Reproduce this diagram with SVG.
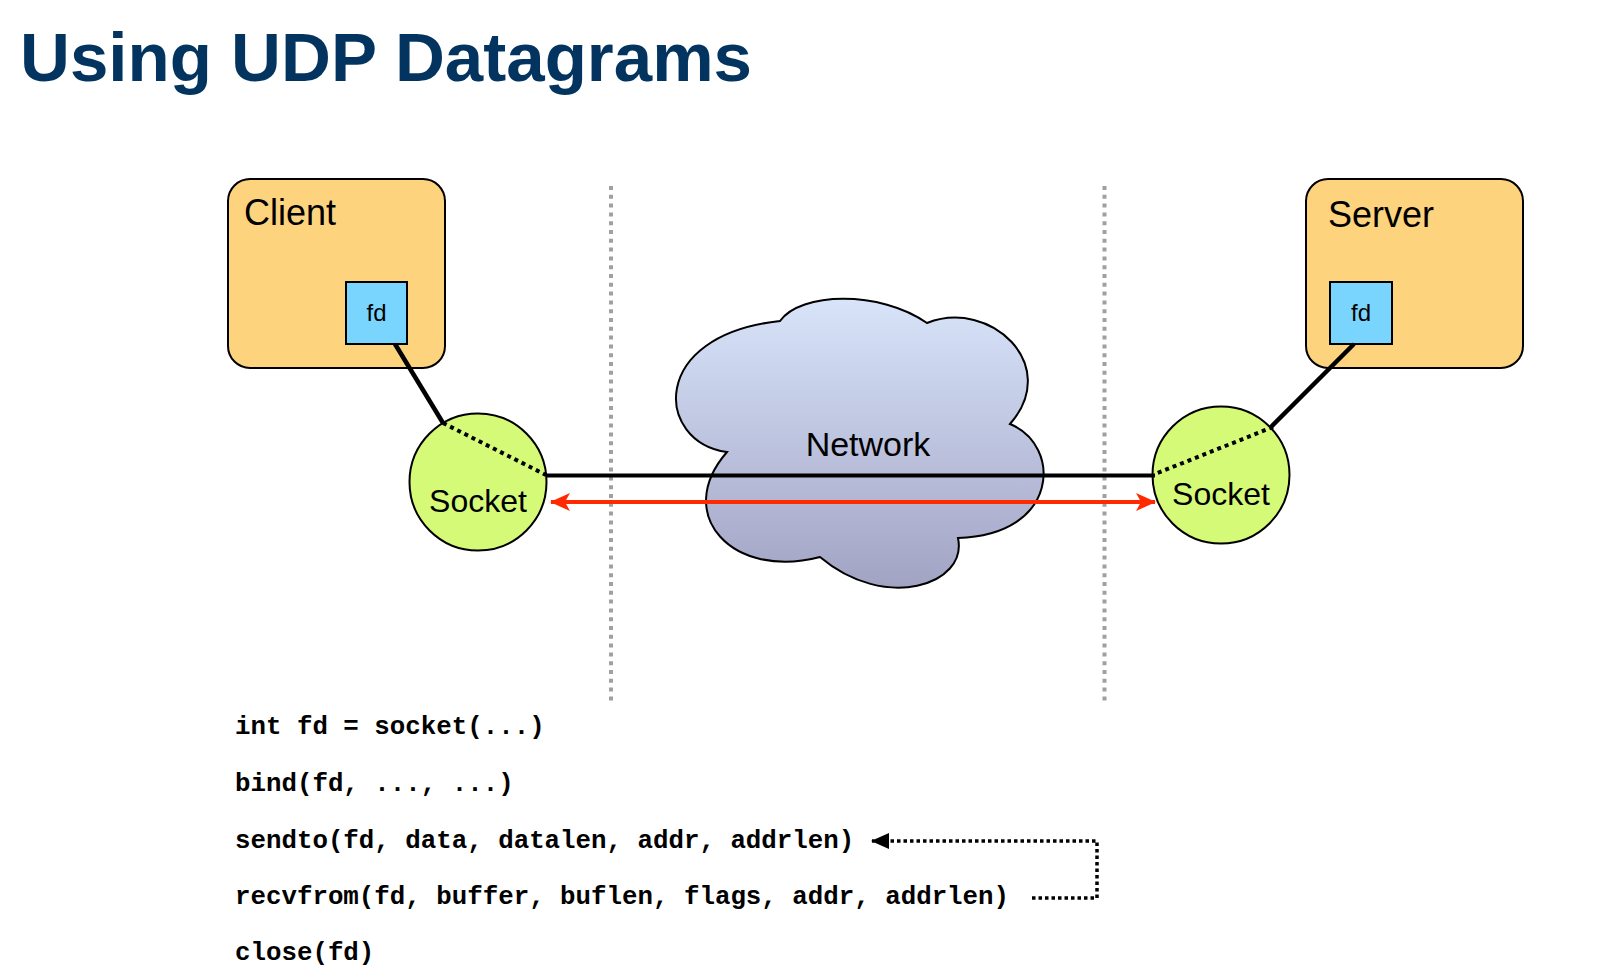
<svg xmlns="http://www.w3.org/2000/svg" width="1605" height="980" viewBox="0 0 1605 980">
<style>
.title{font-family:"Liberation Sans",Arial,sans-serif;font-weight:bold;font-size:69px;fill:#02345f}
.lbl{font-family:"Liberation Sans",Arial,sans-serif;font-size:36px;fill:#000}
.fdt{font-family:"Liberation Sans",Arial,sans-serif;font-size:24px;fill:#000;text-anchor:middle}
.sock{font-family:"Liberation Sans",Arial,sans-serif;font-size:32px;fill:#000;text-anchor:middle}
.code{font-family:"Liberation Mono","Courier New",monospace;font-weight:bold;font-size:25.8px;fill:#000}
.box{fill:#fed37e;stroke:#000;stroke-width:2}
.fd{fill:#79d5fe;stroke:#000;stroke-width:2}
.sc{fill:#d5fa78;stroke:#000;stroke-width:2}
.thick{stroke:#000;stroke-width:4.5;fill:none}
.dot{stroke:#000;stroke-width:4;stroke-dasharray:4 4;fill:none}
.sep{stroke:#a0a0a0;stroke-width:4;stroke-dasharray:4 4.8;fill:none}
</style>
<defs>
<linearGradient id="cloudg" x1="0" y1="0" x2="0" y2="1">
<stop offset="0" stop-color="#d8e4fa"/>
<stop offset="1" stop-color="#a2a3c3"/>
</linearGradient>
<marker id="redhead" viewBox="0 0 20 18" refX="19" refY="9" markerWidth="20" markerHeight="18" markerUnits="userSpaceOnUse" orient="auto-start-reverse">
<path d="M0,0 L20,9 L0,18 L5,9 Z" fill="#ff2a00"/>
</marker>
<marker id="blkhead" viewBox="0 0 18 16" refX="17" refY="8" markerWidth="18" markerHeight="16" markerUnits="userSpaceOnUse" orient="auto">
<path d="M0,0 L18,8 L0,16 Z" fill="#000"/>
</marker>
</defs>
<rect width="1605" height="980" fill="#fff"/>
<text class="title" x="20" y="81" textLength="732" lengthAdjust="spacingAndGlyphs">Using UDP Datagrams</text>

<g id="separators">
<line class="sep" x1="611" y1="186" x2="611" y2="702"/>
<line class="sep" x1="1104.5" y1="186" x2="1104.5" y2="702"/>
</g>

<g id="network">
<path d="M780,321 C800,292 880,290 927,323 C990,298 1062,365 1010,424 C1062,445 1060,535 958,538 C968,585 885,612 820,557 C733,580 672,515 727,452 C655,442 648,335 780,321 Z" fill="url(#cloudg)" stroke="#000" stroke-width="2"/>
<text class="sock" x="868" y="456" style="font-size:34px">Network</text>
</g>

<g id="client">
<rect class="box" x="228" y="179" width="217" height="189" rx="22"/>
<text class="lbl" x="244" y="225">Client</text>
</g>
<g id="client-fd">
<rect class="fd" x="346" y="282" width="61" height="62"/>
<text class="fdt" x="376.5" y="321">fd</text>
</g>

<g id="server">
<rect class="box" x="1306" y="179" width="217" height="189" rx="22"/>
<text class="lbl" x="1328" y="227">Server</text>
</g>
<g id="server-fd">
<rect class="fd" x="1330" y="282" width="62" height="62"/>
<text class="fdt" x="1361" y="321">fd</text>
</g>

<g id="client-socket">
<circle class="sc" cx="478" cy="482" r="68.5"/>
<text class="sock" x="478" y="512">Socket</text>
</g>
<g id="server-socket">
<circle class="sc" cx="1221" cy="475" r="68.5"/>
<text class="sock" x="1221" y="505">Socket</text>
</g>

<g id="connectors">
<line class="thick" x1="395" y1="344" x2="443" y2="423"/>
<line class="dot" x1="443" y1="423" x2="546" y2="475"/>
<line class="thick" x1="1354" y1="344" x2="1271" y2="427"/>
<line class="dot" x1="1273" y1="427" x2="1155" y2="474"/>
<line class="thick" x1="546" y1="475.5" x2="1155" y2="475.5" style="stroke-width:4"/>
<line x1="551" y1="502" x2="1155" y2="502" stroke="#ff2a00" stroke-width="4" marker-start="url(#redhead)" marker-end="url(#redhead)"/>
<path d="M1032,898 L1097,898 L1097,841 L872,841" fill="none" stroke="#000" stroke-width="3.5" stroke-dasharray="3.5 3" marker-end="url(#blkhead)"/>
</g>

<g id="code">
<text class="code" x="235" y="734">int fd = socket(...)</text>
<text class="code" x="235" y="791">bind(fd, ..., ...)</text>
<text class="code" x="235" y="848">sendto(fd, data, datalen, addr, addrlen)</text>
<text class="code" x="235" y="904">recvfrom(fd, buffer, buflen, flags, addr, addrlen)</text>
<text class="code" x="235" y="960">close(fd)</text>
</g>
</svg>
